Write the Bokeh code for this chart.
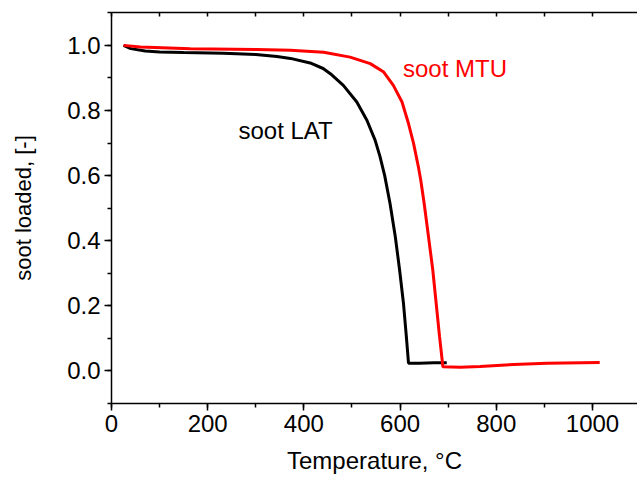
from bokeh.plotting import figure
from bokeh.models import Range1d, LinearAxis, SingleIntervalTicker, FixedTicker, NumeralTickFormatter
from bokeh.core.properties import value
from bokeh.embed import file_html
from bokeh.resources import INLINE

# soot LAT (black)
lat_T = [25, 40, 70, 100, 150, 233, 300, 344, 372, 413, 440, 455, 482, 510, 531, 548, 558, 568,
         579, 590, 599, 607, 613, 617.5, 640, 670, 697]
lat_y = [1.0, 0.99, 0.983, 0.98, 0.978, 0.976, 0.972, 0.966, 0.960, 0.946, 0.929, 0.913, 0.877, 0.826, 0.770, 0.709, 0.660, 0.600,
         0.515, 0.413, 0.310, 0.208, 0.106, 0.024, 0.024, 0.025, 0.025]

# soot MTU (red)
mtu_T = [25, 60, 164, 302, 372, 441, 496, 538, 566, 586, 604, 617.5, 628, 638, 643,
         650, 659, 668, 675, 682, 689, 725, 766, 836, 905, 1015]
mtu_y = [1.0, 0.995, 0.990, 0.987, 0.985, 0.979, 0.964, 0.944, 0.918, 0.877, 0.826, 0.760, 0.699, 0.627, 0.586,
         0.515, 0.413, 0.310, 0.208, 0.106, 0.013, 0.011, 0.014, 0.020, 0.024, 0.026]

labels = ["soot LAT", "soot MTU"]
label_T = [264, 606]
label_y = [0.739, 0.929]

x_label = "Temperature, °C"
y_label = "soot loaded, [-]"

FONT = "Liberation Sans"

p = figure(width=637, height=482, output_backend="svg", toolbar_location=None,
           x_range=Range1d(0, 1093.6), y_range=Range1d(-0.1, 1.101),
           x_axis_location=None, y_axis_location=None)
p.min_border_left = 111
p.min_border_right = 0
p.min_border_top = 12
p.min_border_bottom = 79
p.outline_line_color = None
p.grid.visible = False
p.background_fill_color = "white"
p.border_fill_color = "white"

def style_axis(ax):
    ax.axis_line_color = "black"
    ax.axis_line_width = 1.5
    ax.major_tick_line_color = "black"
    ax.minor_tick_line_color = "black"
    ax.major_tick_line_width = 1.5
    ax.minor_tick_line_width = 1.5
    ax.major_label_text_font = FONT
    ax.major_label_text_font_size = "24px"
    ax.major_label_text_color = "black"
    ax.axis_label_text_font = FONT
    ax.axis_label_text_font_size = "24px"
    ax.axis_label_text_font_style = "normal"
    ax.axis_label_text_color = "black"

xax = LinearAxis(ticker=SingleIntervalTicker(interval=200, num_minor_ticks=2), axis_label=x_label)
style_axis(xax)
xax.major_tick_out = 7
xax.major_tick_in = 0
xax.minor_tick_out = 4
xax.minor_tick_in = 0
xax.major_label_standoff = 4
xax.axis_label_standoff = 12
p.add_layout(xax, "below")

yax = LinearAxis(ticker=SingleIntervalTicker(interval=0.2, num_minor_ticks=2), axis_label=y_label,
                 formatter=NumeralTickFormatter(format="0.0"))
style_axis(yax)
yax.axis_label_text_font_size = "22px"
yax.major_tick_out = 7
yax.major_tick_in = 0
yax.minor_tick_out = 4
yax.minor_tick_in = 0
yax.major_label_standoff = 4
yax.axis_label_standoff = 28
p.add_layout(yax, "left")

top_ticks = list(range(0, 1101, 100))
tax = LinearAxis(ticker=FixedTicker(ticks=top_ticks, minor_ticks=[]))
style_axis(tax)
tax.major_tick_in = 4
tax.major_tick_out = 0
tax.major_label_overrides = {t: "" for t in top_ticks}
tax.major_label_standoff = 0
p.add_layout(tax, "above")

p.line(lat_T, lat_y, line_color="black", line_width=3)
p.line(mtu_T, mtu_y, line_color="#ff0000", line_width=3)

p.text(x=label_T, y=label_y, text=labels, text_color=["black", "#ff0000"],
       text_font=value(FONT), text_font_size="24px",
       text_align="left", text_baseline="alphabetic")

open("out.html", "w").write(file_html(p, INLINE))
